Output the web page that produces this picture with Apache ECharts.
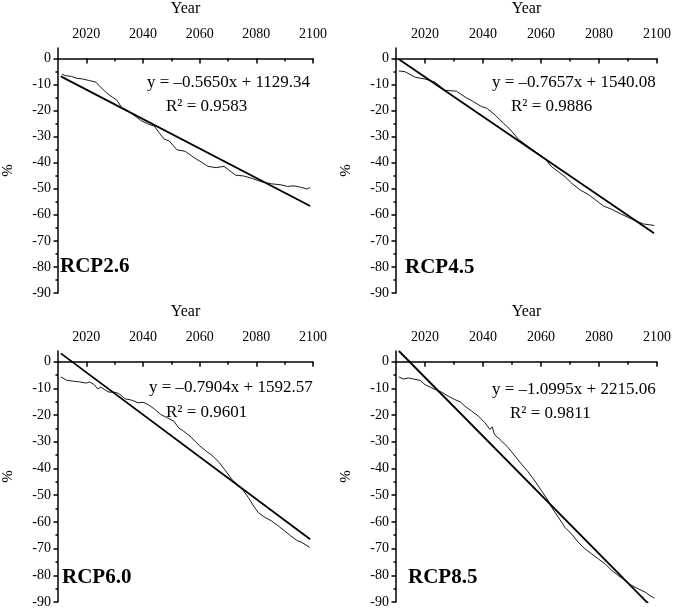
<!DOCTYPE html>
<html>
<head>
<meta charset="utf-8">
<title>RCP trends</title>
<script src="https://cdn.jsdelivr.net/npm/echarts@6.0.0/dist/echarts.min.js"></script>
<style>
  html, body { margin: 0; padding: 0; background: #fff; }
  #main { width: 675px; height: 609px; }
</style>
</head>
<body>
<div id="main"></div>
<script>
// tick labels
var yearTicks = [2020, 2040, 2060, 2080, 2100];
var yearMinorTicks = [2030, 2050, 2070, 2090];
var pctTicks = [-90, -80, -70, -60, -50, -40, -30, -20, -10, 0];
var pctMinorTicks = [-85, -75, -65, -55, -45, -35, -25, -15, -5];

var scenarios = ["RCP2.6", "RCP4.5", "RCP6.0", "RCP8.5"];
var equations = [
  "y = \u20130.5650x + 1129.34",
  "y = \u20130.7657x + 1540.08",
  "y = \u20130.7904x + 1592.57",
  "y = \u20131.0995x + 2215.06"
];
var r2Texts = ["R\u00b2 = 0.9583", "R\u00b2 = 0.9886", "R\u00b2 = 0.9601", "R\u00b2 = 0.9811"];

// change (%) per year
var rcp26 = [
  [2011.4, -6.0], [2012.5, -6.6], [2014.8, -6.9], [2016.5, -7.6], [2018.8, -7.9],
  [2021.1, -8.5], [2023.4, -9.1], [2024.5, -10.4], [2026.8, -12.9], [2029.1, -14.8],
  [2030.8, -16.0], [2032.6, -19.1], [2034.3, -19.8], [2036.6, -21.6], [2039.4, -23.9],
  [2041.7, -25.1], [2044.0, -26.0], [2045.7, -28.5], [2047.5, -31.0], [2049.2, -31.6],
  [2052.0, -35.1], [2054.9, -35.6], [2057.8, -37.9], [2060.6, -39.8], [2062.9, -41.4],
  [2065.8, -41.9], [2068.6, -41.4], [2070.4, -42.9], [2072.7, -44.8], [2075.5, -45.1],
  [2078.4, -46.0], [2081.8, -47.3], [2085.3, -48.1], [2088.7, -48.5], [2091.0, -49.1],
  [2093.3, -48.9], [2095.6, -49.4], [2097.9, -50.1], [2099.0, -49.5]
];
var rcp45 = [
  [2011.0, -4.8], [2013.1, -5.1], [2016.6, -7.2], [2020.0, -7.9], [2023.4, -9.1],
  [2026.9, -12.2], [2030.9, -12.6], [2033.8, -14.8], [2036.7, -16.6], [2039.5, -18.5],
  [2041.3, -19.1], [2044.1, -21.6], [2047.0, -24.8], [2049.3, -27.2], [2052.2, -31.0],
  [2054.5, -32.9], [2056.8, -34.8], [2059.1, -36.6], [2061.4, -38.5], [2063.7, -41.6],
  [2066.0, -43.5], [2068.3, -45.4], [2070.6, -47.9], [2073.4, -50.4], [2076.3, -52.2],
  [2078.6, -54.1], [2081.5, -56.6], [2084.4, -57.9], [2087.8, -59.8], [2090.1, -61.0],
  [2092.4, -62.2], [2095.3, -63.5], [2099.1, -64.1]
];
var rcp60 = [
  [2011.0, -5.7], [2013.1, -7.0], [2015.4, -7.3], [2017.7, -7.6], [2020.0, -8.0],
  [2021.1, -7.6], [2022.8, -8.6], [2024.0, -10.2], [2025.1, -9.5], [2026.8, -10.7],
  [2028.0, -11.4], [2029.7, -11.4], [2031.4, -11.9], [2033.7, -13.9], [2036.0, -14.4],
  [2038.3, -15.4], [2040.0, -15.2], [2041.7, -16.0], [2044.0, -17.7], [2046.3, -19.8],
  [2048.6, -21.0], [2050.9, -22.3], [2052.6, -24.8], [2054.3, -26.0], [2056.6, -27.9],
  [2060.1, -31.6], [2062.3, -33.5], [2064.6, -35.3], [2066.9, -37.8], [2069.2, -40.9],
  [2071.5, -44.3], [2073.2, -45.9], [2075.5, -48.4], [2077.2, -50.9], [2079.0, -54.0],
  [2080.7, -56.5], [2083.0, -58.3], [2085.3, -59.6], [2087.6, -61.4], [2089.9, -63.3],
  [2092.1, -65.2], [2094.4, -67.0], [2096.1, -67.7], [2098.8, -69.5]
];
var rcp85 = [
  [2011.0, -5.7], [2012.5, -6.5], [2014.3, -6.1], [2016.0, -6.5], [2018.3, -7.0],
  [2020.0, -8.6], [2022.3, -9.8], [2024.0, -10.7], [2025.7, -11.4], [2028.0, -12.9],
  [2030.3, -14.2], [2032.1, -15.0], [2033.8, -16.7], [2036.1, -18.5], [2038.4, -20.4],
  [2040.7, -22.9], [2042.4, -25.4], [2043.2, -24.4], [2043.9, -27.2], [2046.4, -29.7],
  [2048.7, -32.2], [2051.0, -35.3], [2053.3, -38.4], [2055.6, -41.3], [2057.9, -44.7],
  [2060.2, -48.4], [2062.5, -52.1], [2063.7, -54.6], [2066.0, -58.3], [2068.3, -62.1],
  [2070.6, -64.6], [2072.9, -67.7], [2075.2, -70.1], [2077.5, -72.0], [2079.8, -73.9],
  [2082.1, -75.7], [2084.4, -78.2], [2086.7, -80.1], [2089.0, -82.0], [2091.3, -83.8],
  [2093.6, -85.1], [2095.9, -86.3], [2097.6, -87.6], [2099.1, -88.6]
];

// linear fit end points
var fit26 = [[2011, -6.9], [2099, -56.6]];
var fit45 = [[2011, -0.3], [2099, -67.1]];
var fit60 = [[2011, 3.1], [2099, -66.5]];
var fit85 = [[2011, 4.0], [2099, -92.8]];

var curves = [rcp26, rcp45, rcp60, rcp85];
var fits = [fit26, fit45, fit60, fit85];

var FONT = "Liberation Serif";
var grids = [
  { left: 51, top: 41, width: 262, height: 252 },
  { left: 396, top: 41, width: 261, height: 252 },
  { left: 52, top: 351, width: 261, height: 252 },
  { left: 396, top: 351, width: 261, height: 252 }
];
var eqPos = [
  { x: 147, y: 83, rx: 166, ry: 107 },
  { x: 492, y: 83, rx: 511, ry: 107 },
  { x: 149, y: 388, rx: 166, ry: 413 },
  { x: 492, y: 390, rx: 510, ry: 414 }
];
var labelPos = [
  { x: 60, y: 267 },
  { x: 405, y: 268 },
  { x: 62, y: 578 },
  { x: 408, y: 578 }
];

var xAxes = [], yAxes = [], series = [], graphics = [];
var lineStyle = { color: "#000", width: 1.5 };
var plain = function (v) { return String(v); };

grids.forEach(function (g, i) {
  xAxes.push({
    gridIndex: i, type: "value", position: "top", min: 2010, max: 2100,
    name: "Year", nameLocation: "middle", nameGap: 31,
    nameTextStyle: { fontFamily: FONT, fontSize: 16, color: "#000" },
    axisLine: { show: true, lineStyle: lineStyle },
    axisTick: { show: true, inside: true, length: 5, customValues: yearTicks, lineStyle: lineStyle },
    axisLabel: { customValues: yearTicks, formatter: plain, margin: 7, fontFamily: FONT, fontSize: 14, color: "#000" },
    splitLine: { show: false }
  });
  xAxes.push({
    gridIndex: i, type: "value", position: "top", min: 2010, max: 2100,
    axisLine: { show: false },
    axisTick: { show: true, inside: true, length: 3, customValues: yearMinorTicks, lineStyle: lineStyle },
    axisLabel: { show: false },
    splitLine: { show: false }
  });
  yAxes.push({
    gridIndex: i, type: "value", position: "left", min: -90, max: 4,
    name: "%", nameLocation: "middle", nameGap: 42, nameRotate: 90,
    nameTextStyle: { fontFamily: FONT, fontSize: 15, color: "#000" },
    axisLine: { show: true, lineStyle: lineStyle },
    axisTick: { show: true, length: 4.5, customValues: pctTicks, lineStyle: lineStyle },
    axisLabel: { customValues: pctTicks, formatter: plain, margin: 7, fontFamily: FONT, fontSize: 14, color: "#000" },
    splitLine: { show: false }
  });
  yAxes.push({
    gridIndex: i, type: "value", position: "left", min: -90, max: 4,
    axisLine: { show: false },
    axisTick: { show: true, length: 2.5, customValues: pctMinorTicks, lineStyle: lineStyle },
    axisLabel: { show: false },
    splitLine: { show: false }
  });
  series.push({
    type: "line", xAxisIndex: i * 2, yAxisIndex: i * 2, data: curves[i],
    showSymbol: false, lineStyle: { color: "#1a1a1a", width: 1 }, z: 2
  });
  series.push({
    type: "line", xAxisIndex: i * 2, yAxisIndex: i * 2, data: fits[i],
    showSymbol: false, lineStyle: { color: "#000", width: 1.8 }, z: 3
  });
  graphics.push({
    type: "text", x: eqPos[i].x, y: eqPos[i].y,
    style: { text: equations[i], font: "17px " + FONT, fill: "#000", verticalAlign: "middle" }
  });
  graphics.push({
    type: "text", x: eqPos[i].rx, y: eqPos[i].ry,
    style: { text: r2Texts[i], font: "17px " + FONT, fill: "#000", verticalAlign: "middle" }
  });
  graphics.push({
    type: "text", x: labelPos[i].x, y: labelPos[i].y,
    style: { text: scenarios[i], font: "bold 21px " + FONT, fill: "#000", verticalAlign: "middle" }
  });
});

var chart = echarts.init(document.getElementById("main"));
chart.setOption({
  animation: false,
  backgroundColor: "#fff",
  grid: grids,
  xAxis: xAxes,
  yAxis: yAxes,
  series: series,
  graphic: graphics
});
</script>
</body>
</html>
